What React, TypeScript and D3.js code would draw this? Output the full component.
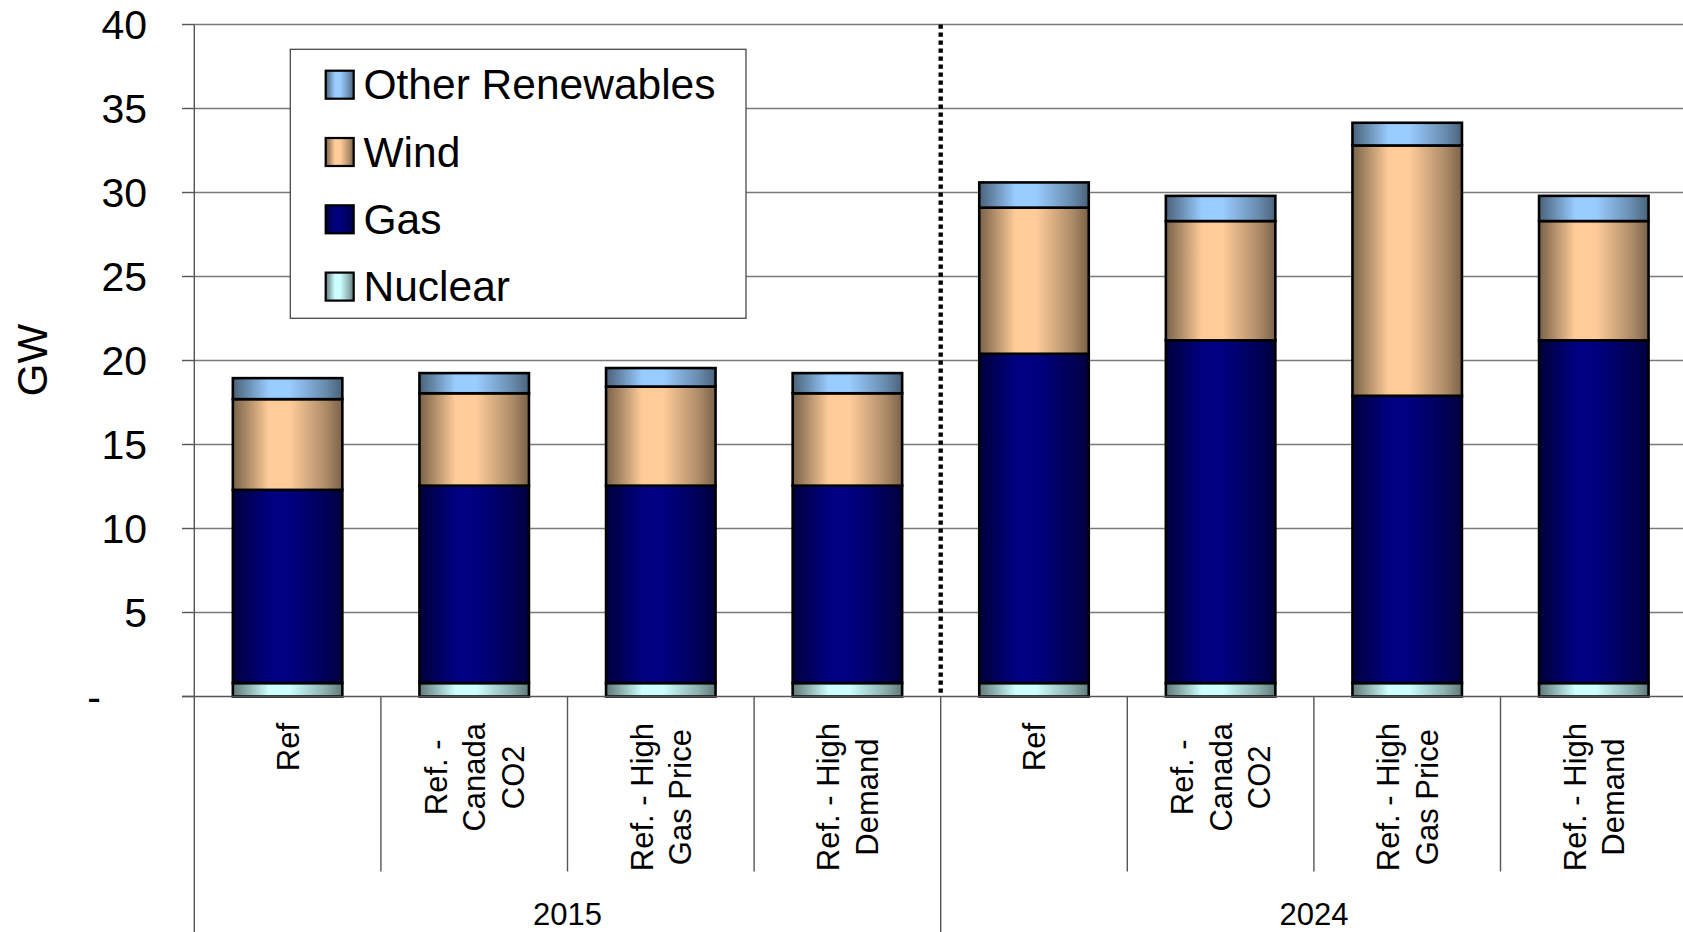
import React, { useMemo } from "react";
import * as d3 from "d3";

// ---- data -------------------------------------------------------------
const years = ["2015", "2024"];
const scenarios = ["Ref", "Ref. -\nCanada\nCO2", "Ref. - High\nGas Price", "Ref. - High\nDemand"];

// GW by category (2015 x 4 scenarios, then 2024 x 4 scenarios)
const nuclear = [0.8, 0.8, 0.8, 0.8, 0.8, 0.8, 0.8, 0.8];
const gas = [11.5, 11.75, 11.75, 11.75, 19.6, 20.4, 17.1, 20.4];
const wind = [5.4, 5.5, 5.9, 5.5, 8.7, 7.1, 14.9, 7.1];
const otherRenewables = [1.25, 1.2, 1.1, 1.2, 1.5, 1.5, 1.35, 1.5];

const seriesKeys = ["nuclear", "gas", "wind", "other"];
const seriesNames: Record<string, string> = {
  nuclear: "Nuclear",
  gas: "Gas",
  wind: "Wind",
  other: "Other Renewables",
};
const yTicks = [0, 5, 10, 15, 20, 25, 30, 35, 40];

// ---- styling ----------------------------------------------------------
const W = 1683;
const H = 932;
const FONT = "'Liberation Sans', Arial, Helvetica, sans-serif";
const baseColors: Record<string, string> = {
  nuclear: "#CCFFFF",
  gas: "#000080",
  wind: "#FFCC99",
  other: "#99CCFF",
};

const M = { left: 194.3, top: 24.5, bottom: 696.5 };
const STEP = 186.6;

function shade(c: string, k: number) {
  const col = d3.rgb(c);
  return d3.rgb(col.r * k, col.g * k, col.b * k).formatHex();
}

function measure(text: string, font: string) {
  const ctx = document.createElement("canvas").getContext("2d")!;
  ctx.font = font;
  return ctx.measureText(text).width;
}

export default function App() {
  const categories = years.flatMap((y) => scenarios.map((s) => ({ year: y, label: s })));
  const n = categories.length;
  const xEnd = M.left + n * STEP;

  const barRatio = 109.5 / STEP;
  const x = d3
    .scaleBand<number>()
    .domain(d3.range(n))
    .range([M.left, xEnd])
    .paddingInner(1 - barRatio)
    .paddingOuter((1 - barRatio) / 2);
  const y = d3.scaleLinear().domain([0, 40]).range([M.bottom, M.top]);

  const rows = categories.map((_, i) => ({
    nuclear: nuclear[i],
    gas: gas[i],
    wind: wind[i],
    other: otherRenewables[i],
  }));
  const stacked = d3.stack<any>().keys(seriesKeys)(rows);

  const labelFont = `31px ${FONT}`;
  const labelBlocks = useMemo(
    () =>
      categories.map((c) => {
        const lines = c.label.split("\n");
        const maxLen = d3.max(lines, (l) => measure(l, labelFont)) || 0;
        return { lines, maxLen };
      }),
    []
  );

  const labelTop = 723;
  const lineGap = 38.5;
  const groupSize = scenarios.length;

  const legendOrder = [...seriesKeys].reverse();

  return (
    <svg
      width={W}
      height={H}
      style={{ position: "absolute", left: 0, top: 0, background: "#fff" }}
      fontFamily={FONT}
    >
      <defs>
        {seriesKeys.map((k) => (
          <linearGradient key={k} id={`grad-${k}`} x1="0" x2="1" y1="0" y2="0">
            <stop offset="0" stopColor={shade(baseColors[k], 0.48)} />
            <stop offset="0.12" stopColor={shade(baseColors[k], 0.66)} />
            <stop offset="0.33" stopColor={baseColors[k]} />
            <stop offset="0.52" stopColor={baseColors[k]} />
            <stop offset="0.85" stopColor={shade(baseColors[k], 0.68)} />
            <stop offset="1" stopColor={shade(baseColors[k], 0.48)} />
          </linearGradient>
        ))}
      </defs>

      {/* horizontal gridlines */}
      {yTicks
        .filter((t) => t > 0)
        .map((t) => (
          <line key={`g${t}`} x1={M.left} x2={xEnd} y1={y(t)} y2={y(t)} stroke="#7a7a7a" strokeWidth={1.6} />
        ))}

      {/* legend */}
      <g>
        <rect x={290.3} y={49.3} width={455.7} height={269} fill="#fff" stroke="#4a4a4a" strokeWidth={1.3} />
        {legendOrder.map((k, i) => {
          const ry = 70.7 + i * 67.3;
          return (
            <g key={k}>
              <rect x={325.7} y={ry} width={28} height={28} fill={`url(#grad-${k})`} stroke="#000" strokeWidth={2.2} />
              <text x={363.5} y={ry + 28.6} fontSize={42.5} fill="#000">
                {seriesNames[k]}
              </text>
            </g>
          );
        })}
      </g>

      {/* y axis ticks and labels */}
      {yTicks.map((t) => (
        <g key={`t${t}`}>
          <line x1={182} x2={M.left} y1={y(t)} y2={y(t)} stroke="#555" strokeWidth={1.4} />
          <text
            x={t === 0 ? 94 : 147}
            y={y(t) + 14.6}
            fontSize={41}
            textAnchor={t === 0 ? "middle" : "end"}
            fill="#000"
          >
            {t === 0 ? "-" : String(t)}
          </text>
        </g>
      ))}

      {/* y axis title */}
      <text transform="translate(46.5,360) rotate(-90)" textAnchor="middle" fontSize={42} fill="#000">
        GW
      </text>

      {/* stacked bars */}
      {stacked.map((layer) => (
        <g key={layer.key}>
          {layer.map((d, i) => (
            <rect
              key={i}
              x={x(i)}
              y={y(d[1])}
              width={x.bandwidth()}
              height={y(d[0]) - y(d[1])}
              fill={`url(#grad-${layer.key})`}
              stroke="#000"
              strokeWidth={2.6}
            />
          ))}
        </g>
      ))}

      {/* dotted separator between years */}
      <line
        x1={M.left + groupSize * STEP}
        x2={M.left + groupSize * STEP}
        y1={M.top}
        y2={M.bottom}
        stroke="#000"
        strokeWidth={4.4}
        strokeDasharray="4.3 3.7"
      />

      {/* axes lines */}
      <line x1={M.left} x2={M.left} y1={M.top} y2={H} stroke="#555" strokeWidth={1.4} />
      <line x1={182} x2={xEnd} y1={M.bottom} y2={M.bottom} stroke="#555" strokeWidth={1.6} />

      {/* category dividers */}
      {d3.range(1, n + 1).map((i) => {
        const xx = M.left + i * STEP;
        const isGroup = i % groupSize === 0;
        return (
          <line
            key={`d${i}`}
            x1={xx}
            x2={xx}
            y1={M.bottom}
            y2={isGroup ? H : 871.5}
            stroke="#555"
            strokeWidth={1.4}
          />
        );
      })}

      {/* category labels */}
      {labelBlocks.map((b, i) => {
        const cx = (x(i) as number) + x.bandwidth() / 2;
        const cy = labelTop + b.maxLen / 2;
        const nl = b.lines.length;
        return (
          <text
            key={`c${i}`}
            transform={`translate(${cx},${cy}) rotate(-90)`}
            textAnchor="middle"
            fontSize={31}
            fill="#000"
          >
            {b.lines.map((l, j) => (
              <tspan key={j} x={0} y={(j - (nl - 1) / 2) * lineGap + 0.358 * 31}>
                {l}
              </tspan>
            ))}
          </text>
        );
      })}

      {/* year labels */}
      {years.map((yr, g) => (
        <text
          key={yr}
          x={M.left + (g * groupSize + groupSize / 2) * STEP}
          y={925}
          textAnchor="middle"
          fontSize={31}
          fill="#000"
        >
          {yr}
        </text>
      ))}
    </svg>
  );
}
